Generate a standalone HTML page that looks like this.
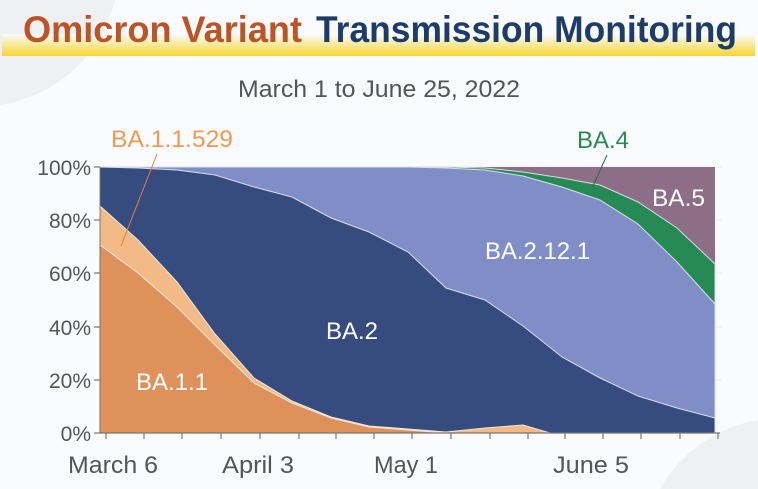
<!DOCTYPE html>
<html><head><meta charset="utf-8"><style>
html,body{margin:0;padding:0;background:#fafbfc;width:758px;height:489px;overflow:hidden;}
svg{display:block;font-family:"Liberation Sans",sans-serif;}
</style></head><body>
<svg width="758" height="489" viewBox="0 0 758 489">
<defs>
<linearGradient id="yb" x1="0" y1="0" x2="0" y2="1">
<stop offset="0" stop-color="#fafbfc"/><stop offset="1" stop-color="#f7d631"/>
</linearGradient>
</defs>
<rect width="758" height="489" fill="#fafbfc"/>
<path d="M0,0 L115,0 A140,140 0 0 1 0,105 Z" fill="#eef0f3"/>
<path d="M758,420 A140,140 0 0 0 660,489 L758,489 Z" fill="#eef1f4"/>
<rect x="2" y="34" width="753" height="22" fill="url(#yb)"/>
<text x="23" y="42" font-size="37" font-weight="bold" fill="#bd5427" textLength="279" lengthAdjust="spacingAndGlyphs">Omicron Variant</text>
<text x="316" y="42" font-size="37" font-weight="bold" fill="#1c3d6a" textLength="421" lengthAdjust="spacingAndGlyphs">Transmission Monitoring</text>
<text x="238" y="97" font-size="24" fill="#555" textLength="282" lengthAdjust="spacingAndGlyphs">March 1 to June 25, 2022</text>

<g stroke="#e8ecf4" stroke-width="1">
<line x1="100" y1="167" x2="722" y2="167"/><line x1="100" y1="220" x2="722" y2="220"/><line x1="100" y1="273" x2="722" y2="273"/><line x1="100" y1="327" x2="722" y2="327"/><line x1="100" y1="380" x2="722" y2="380"/>
</g>
<rect x="100" y="167" width="615" height="266" fill="#8c6e86"/>
<polygon fill="#268a55" stroke="#d8dde8" stroke-width="1" points="100,167 446,167 485,168 523,172 562,178 600,185 638,202 677,228 715,264 715,433 100,433"/>
<polygon fill="#7f8ec6" stroke="#d8dde8" stroke-width="1" points="100,167 408,167 446,168 485,170 523,176 562,187 600,200 638,224 677,262 715,304 715,433 100,433"/>
<polygon fill="#364c7e" stroke="#d8dde8" stroke-width="1" points="100,167 138,168 177,170 215,175 254,187 292,197 331,218 369,232 408,252 446,288 485,300 523,326 562,357 600,378 638,396 677,408 715,418 715,433 100,433"/>
<polygon fill="#f2bb85" stroke="#f5e6d6" stroke-width="1" points="100,206 138,240 177,282 215,334 254,378 292,401 331,417 369,426 408,429 446,432 485,428 523,425 550,433 100,433"/>
<polygon fill="#de915b" stroke="#f5e6d6" stroke-width="1" points="100,245 138,273 177,307 215,345 254,383 292,403 331,418 369,427 408,430 446,433 100,433"/>

<line x1="100" y1="433" x2="720" y2="433" stroke="#777" stroke-width="1.2"/>
<line x1="100" y1="167" x2="100" y2="433" stroke="#777" stroke-width="1"/>
<g stroke="#777" stroke-width="1.2">
<line x1="94" y1="167" x2="100" y2="167"/><line x1="94" y1="220" x2="100" y2="220"/><line x1="94" y1="273" x2="100" y2="273"/><line x1="94" y1="327" x2="100" y2="327"/><line x1="94" y1="380" x2="100" y2="380"/><line x1="94" y1="433" x2="100" y2="433"/>
<line x1="106" y1="433" x2="106" y2="439"/><line x1="144" y1="433" x2="144" y2="439"/><line x1="182" y1="433" x2="182" y2="439"/><line x1="221" y1="433" x2="221" y2="439"/><line x1="260" y1="433" x2="260" y2="439"/><line x1="299" y1="433" x2="299" y2="439"/><line x1="336" y1="433" x2="336" y2="439"/><line x1="374" y1="433" x2="374" y2="439"/><line x1="412" y1="433" x2="412" y2="439"/><line x1="451" y1="433" x2="451" y2="439"/><line x1="490" y1="433" x2="490" y2="439"/><line x1="528" y1="433" x2="528" y2="439"/><line x1="565" y1="433" x2="565" y2="439"/><line x1="603" y1="433" x2="603" y2="439"/><line x1="641" y1="433" x2="641" y2="439"/><line x1="680" y1="433" x2="680" y2="439"/><line x1="718" y1="433" x2="718" y2="439"/>
</g>
<g font-size="21" fill="#555" text-anchor="end">
<text x="91" y="175">100%</text><text x="91" y="228">80%</text><text x="91" y="281">60%</text><text x="91" y="335">40%</text><text x="91" y="388">20%</text><text x="91" y="441">0%</text>
</g>
<g font-size="24" fill="#555">
<text x="68" y="473" textLength="90" lengthAdjust="spacingAndGlyphs">March 6</text>
<text x="222" y="473" textLength="72" lengthAdjust="spacingAndGlyphs">April 3</text>
<text x="374" y="473" textLength="64" lengthAdjust="spacingAndGlyphs">May 1</text>
<text x="553" y="473" textLength="76" lengthAdjust="spacingAndGlyphs">June 5</text>
</g>
<g font-size="24" fill="#fff">
<text x="136" y="390" textLength="72" lengthAdjust="spacingAndGlyphs">BA.1.1</text>
<text x="326" y="339" textLength="52" lengthAdjust="spacingAndGlyphs">BA.2</text>
<text x="485" y="259" textLength="105" lengthAdjust="spacingAndGlyphs">BA.2.12.1</text>
<text x="652" y="206" textLength="53" lengthAdjust="spacingAndGlyphs">BA.5</text>
</g>
<line x1="157" y1="154" x2="121" y2="246" stroke="#e07f3a" stroke-width="1"/>
<text x="111" y="147" font-size="24" fill="#ee9a55" textLength="122" lengthAdjust="spacingAndGlyphs">BA.1.1.529</text>
<line x1="607" y1="155" x2="593" y2="186" stroke="#1f6f45" stroke-width="1"/>
<text x="577" y="148" font-size="24" fill="#268a55" textLength="52" lengthAdjust="spacingAndGlyphs">BA.4</text>
</svg>
</body></html>
